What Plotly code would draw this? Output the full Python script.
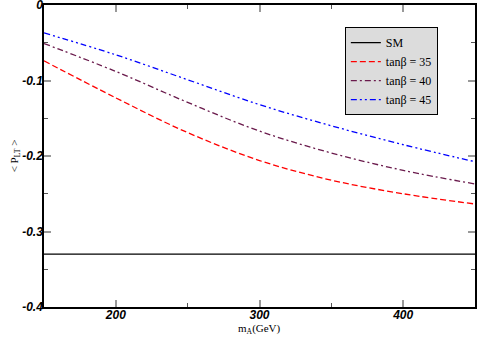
import plotly.graph_objects as go

m_A = [150, 200, 250, 300, 350, 400, 450]
sm_value = -0.33
tb35 = [-0.074, -0.123, -0.169, -0.206, -0.232, -0.250, -0.2636]
tb40 = [-0.051, -0.088, -0.129, -0.167, -0.196, -0.219, -0.237]
tb45 = [-0.037, -0.066, -0.099, -0.132, -0.160, -0.185, -0.2076]
x_ticks = [200, 300, 400]
y_ticks = [0, -0.1, -0.2, -0.3, -0.4]
y_labels = ["0", "-0.1", "-0.2", "-0.3", "-0.4"]

fig = go.Figure()
fig.add_trace(go.Scatter(x=[m_A[0], m_A[-1]], y=[sm_value, sm_value], mode="lines",
                         name="SM", line=dict(color="black", width=1.3)))
fig.add_trace(go.Scatter(x=m_A, y=tb35, mode="lines", name="tanβ = 35",
                         line=dict(color="#ff0000", width=1.3, dash="6px,3px", shape="spline")))
fig.add_trace(go.Scatter(x=m_A, y=tb40, mode="lines", name="tanβ = 40",
                         line=dict(color="#6a1a4c", width=1.3, dash="6px,3px,2px,3px", shape="spline")))
fig.add_trace(go.Scatter(x=m_A, y=tb45, mode="lines", name="tanβ = 45",
                         line=dict(color="#0000ff", width=1.3, dash="6px,3px,2px,3px,2px,3px", shape="spline")))

tickfont = dict(family="Liberation Sans, Arial", size=12, color="black", weight="bold", style="italic")
titlefont = dict(family="Liberation Serif, Times New Roman", size=11, color="black")

fig.update_layout(
    width=477, height=339,
    margin=dict(l=44, r=2, t=5, b=32, autoexpand=False),
    paper_bgcolor="white", plot_bgcolor="white",
    showlegend=True,
    legend=dict(x=0.698, y=0.927, xanchor="left", yanchor="top",
                bgcolor="#dcdcdc", bordercolor="black", borderwidth=1,
                font=dict(family="Liberation Serif, Times New Roman", size=12, color="black"),
                tracegroupgap=0, itemwidth=30),
    xaxis=dict(range=[150, 450], tickvals=x_ticks, showgrid=False, zeroline=False,
               automargin=False, ticklabeloverflow="allow", ticklabelstandoff=-4,
               showline=True, linecolor="black", linewidth=1.5, mirror="ticks",
               ticks="inside", ticklen=7, tickcolor="#999999", tickwidth=1.5,
               tickfont=tickfont,
               minor=dict(tickvals=[250, 350], ticks="inside", ticklen=4, tickcolor="#555555", tickwidth=1)),
    yaxis=dict(range=[-0.4, 0], tickvals=y_ticks, ticktext=y_labels, showgrid=False, zeroline=False,
               automargin=False, ticklabeloverflow="allow", ticklabelstandoff=-3,
               showline=True, linecolor="black", linewidth=1.5, mirror="ticks",
               ticks="inside", ticklen=7, tickcolor="#999999", tickwidth=1.5,
               tickfont=tickfont,
               minor=dict(tickvals=[-0.05, -0.15, -0.25, -0.35], ticks="inside", ticklen=4,
                          tickcolor="#555555", tickwidth=1),
               title=dict(text="< P<sub>LT</sub> >", font=titlefont, standoff=0)),
    annotations=[dict(text="m<sub>A</sub>(GeV)", xref="paper", yref="paper", x=0.5, y=-0.072,
                      xanchor="center", yanchor="middle", showarrow=False, font=titlefont)],
)

fig.write_html("out.html", config={"displayModeBar": False},
               post_script="document.body.style.margin='0';")
